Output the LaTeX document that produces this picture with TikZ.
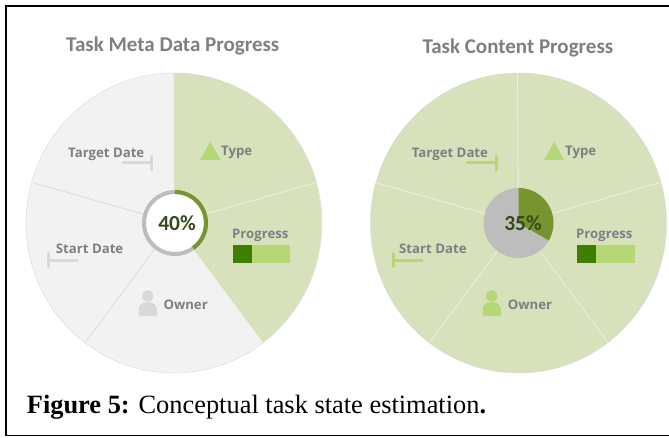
\documentclass[tikz,border=0pt]{standalone}
\usepackage{fontspec}
\setmainfont{Liberation Serif}
\newfontfamily\labelfont{Open Sans}
\newfontfamily\titlefont{Carlito}
\definecolor{piegreen}{HTML}{D7E2BD}
\definecolor{piegray}{HTML}{F2F2F2}
\definecolor{icongreen}{HTML}{B5D776}
\definecolor{icongray}{HTML}{D9D9D9}
\definecolor{bardark}{HTML}{3F7F00}
\definecolor{ringgreen}{HTML}{78942F}
\definecolor{ringgray}{HTML}{BDBDBD}
\definecolor{textgray}{HTML}{7F7F7F}
\definecolor{pctgreen}{HTML}{37491A}
\begin{document}
\begin{tikzpicture}[x=1pt,y=1pt]
    \tikzstyle{frameline}=[black,line width=1.4pt]
    \tikzstyle{title}=[anchor=base west,inner sep=0pt,text=textgray,font=\titlefont\bfseries\fontsize{21}{23}\selectfont]
    \tikzstyle{label}=[anchor=base west,inner sep=0pt,text=textgray,font=\labelfont\bfseries\fontsize{13.2}{15}\selectfont]
    \tikzstyle{percent}=[inner sep=0pt,anchor=base,text=pctgreen,font=\titlefont\bfseries\fontsize{21.5}{23}\selectfont]
    \tikzstyle{rimline}=[draw=black!18,line width=0.3pt]
    \tikzstyle{graysp}=[draw=icongray,line width=0.7pt]
    \tikzstyle{greensp}=[draw=white!55!piegreen,line width=0.7pt]
    \tikzstyle{datebar}=[line width=3pt,line cap=round]
    \useasboundingbox (0,0) rectangle (669,437);
    % frame, open on the right
    \draw[frameline] (669,1.5) -- (6,1.5) -- (6,431) -- (669,431);
    % left pie
    \coordinate (ca) at (174,214);
    \coordinate (atop) at (173.5,364);
    \coordinate (a1) at (315.3,254.3);
    \coordinate (a2) at (262.7,95);
    \coordinate (a3) at (85.7,95);
    \coordinate (a4) at (33.3,254.3);
    \fill[piegray] (ca) ellipse [x radius=148,y radius=150];
    \fill[piegreen] (ca) -- (atop) arc [start angle=90,end angle=-52.8,x radius=148,y radius=150] -- cycle;
    \draw[rimline] (ca) ellipse [x radius=148,y radius=150];
    \draw[greensp] (ca) -- (a1);
    \draw[graysp] (ca) -- (a3);
    \draw[graysp] (ca) -- (a4);
    \fill[white] (175,214) circle (31);
    \draw[ringgray,line width=4pt] (175,214) circle (31);
    \draw[ringgreen,line width=4pt] (175,245) arc [start angle=90,end angle=-54,radius=31];
    % right pie
    \coordinate (cb) at (518.5,214);
    \coordinate (btop) at (517.5,364);
    \coordinate (b1) at (659.3,254.3);
    \coordinate (b2) at (607.7,95);
    \coordinate (b3) at (430,95);
    \coordinate (b4) at (375.7,254.3);
    \fill[piegreen] (cb) ellipse [x radius=148,y radius=150];
    \draw[rimline] (cb) ellipse [x radius=148,y radius=150];
    \draw[greensp] (cb) -- (btop);
    \draw[greensp] (cb) -- (b1);
    \draw[greensp] (cb) -- (b2);
    \draw[greensp] (cb) -- (b3);
    \draw[greensp] (cb) -- (b4);
    \fill[ringgray] (cb) circle (35);
    \fill[ringgreen] (cb) -- (518.5,249) arc [start angle=90,end angle=-30,radius=35] -- cycle;
    % titles
    \node[title] (tleft) at (66,385) {Task Meta Data Progress};
    \node[title] (tright) at (422.3,383.5) {Task Content Progress};
    % percentages
    \node[percent] (pleft) at (177,207) {40\%};
    \node[percent] (pright) at (523,207) {35\%};
    % left icons
    \fill[icongreen] (200,277) -- (220.7,277) -- (210.3,295) -- cycle;
    \fill[icongreen] (233.3,174.3) rectangle (290.3,192);
    \fill[bardark] (233.3,174.3) rectangle (252,192);
    \draw[datebar,icongray] (123,274.3) -- (151.5,274.3);
    \draw[datebar,icongray] (151.5,267) -- (151.5,280.5);
    \draw[datebar,icongray] (77.5,176.7) -- (48.7,176.7);
    \draw[datebar,icongray] (48.7,170.5) -- (48.7,183.5);
    \fill[icongray] (147.7,141) circle (5.7);
    \fill[icongray] (138.7,121) -- (138.7,127) .. controls (138.7,132) and (142,135) .. (147.8,135) .. controls (153.6,135) and (157,132) .. (157,127) -- (157,121) -- cycle;
    % right icons
    \fill[icongreen] (544,277) -- (564.3,277) -- (554.2,295) -- cycle;
    \fill[icongreen] (577,174.3) rectangle (634.7,192);
    \fill[bardark] (577,174.3) rectangle (596.3,192);
    \draw[datebar,icongreen] (467,274.3) -- (496,274.3);
    \draw[datebar,icongreen] (496,267) -- (496,280.5);
    \draw[datebar,icongreen] (422,176.7) -- (393,176.7);
    \draw[datebar,icongreen] (393,170.5) -- (393,183.5);
    \fill[icongreen] (491.7,141) circle (5.7);
    \fill[icongreen] (482.5,121) -- (482.5,127) .. controls (482.5,132) and (486,135) .. (491.8,135) .. controls (497.6,135) and (501,132) .. (501,127) -- (501,121) -- cycle;
    % left labels
    \node[label] (ldate) at (68,279.7) {Target Date};
    \node[label] (ltype) at (221,281) {Type};
    \node[label] (lprog) at (232,198.3) {Progress};
    \node[label] (lstart) at (55.7,184) {Start Date};
    \node[label] (lown) at (163.3,127.3) {Owner};
    % right labels
    \node[label] (rdate) at (411.7,279.7) {Target Date};
    \node[label] (rtype) at (565,281) {Type};
    \node[label] (rprog) at (576,198.3) {Progress};
    \node[label] (rstart) at (399,184) {Start Date};
    \node[label] (rown) at (507.7,127.3) {Owner};
    % caption
    \node[anchor=base west,inner sep=0pt,font=\fontsize{26.4}{28}\selectfont] (cap) at (26.7,24) {\textbf{Figure 5:} Conceptual task state estimation\textbf{.}};
\end{tikzpicture}
\end{document}
